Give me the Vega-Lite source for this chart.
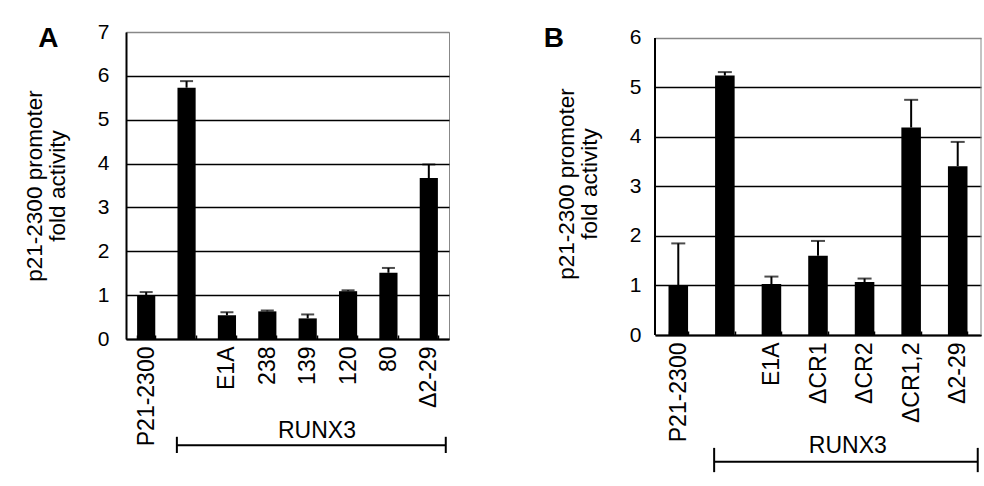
{
  "$schema": "https://vega.github.io/schema/vega-lite/v6.json",
  "background": "white",
  "padding": {"left": 22, "top": 20, "right": 0, "bottom": 0},
  "spacing": 93,
  "datasets": {
    "a": [
      {"construct": "P21-2300", "fold": 1.0, "upper": 1.07},
      {"construct": "RUNX3", "fold": 5.73, "upper": 5.88},
      {"construct": "E1A", "fold": 0.54, "upper": 0.61},
      {"construct": "238", "fold": 0.63, "upper": 0.65},
      {"construct": "139", "fold": 0.47, "upper": 0.56},
      {"construct": "120", "fold": 1.09, "upper": 1.11},
      {"construct": "80", "fold": 1.51, "upper": 1.62},
      {"construct": "Δ2-29", "fold": 3.67, "upper": 3.98}
    ],
    "b": [
      {"construct": "P21-2300", "fold": 1.0, "upper": 1.85},
      {"construct": "RUNX3", "fold": 5.24, "upper": 5.31},
      {"construct": "E1A", "fold": 1.03, "upper": 1.18},
      {"construct": "ΔCR1", "fold": 1.6, "upper": 1.9},
      {"construct": "ΔCR2", "fold": 1.07, "upper": 1.14},
      {"construct": "ΔCR1,2", "fold": 4.19, "upper": 4.75},
      {"construct": "Δ2-29", "fold": 3.41, "upper": 3.9}
    ],
    "noteA": [{"label": "RUNX3", "panel": "A"}],
    "noteB": [{"label": "RUNX3", "panel": "B"}]
  },
  "config": {
    "font": "Liberation Sans",
    "view": {"stroke": "#888", "strokeWidth": 1},
    "axis": {"labelFont": "Liberation Sans", "titleFont": "Liberation Sans", "labelColor": "#000", "titleColor": "#000"}
  },
  "hconcat": [
    {
      "width": 323,
      "height": 307,
      "resolve": {"scale": {"x": "independent"}},
      "layer": [
        {
          "data": {"name": "a"},
          "encoding": {
            "x": {"field": "construct", "type": "nominal",
              "sort": ["P21-2300", "RUNX3", "E1A", "238", "139", "120", "80", "Δ2-29"],
              "scale": {"paddingInner": 0.55, "paddingOuter": 0.275},
              "axis": {"title": null, "labelAngle": -90, "labelFontSize": 23, "labelPadding": 11, "tickBand": "extent", "tickSize": -4, "tickColor": "#000", "tickWidth": 1.5, "domainColor": "#000", "domainWidth": 2,
                "labelExpr": "datum.value == 'RUNX3' ? '' : datum.value"}
            },
            "y": {"type": "quantitative",
              "scale": {"domain": [0, 7], "nice": false},
              "axis": {"values": [0, 1, 2, 3, 4, 5, 6, 7], "ticks": false, "labelFontSize": 21, "labelPadding": 17, "domainColor": "#000", "domainWidth": 2,
                "gridColor": {"condition": {"test": "datum.value == 7", "value": "#888"}, "value": "#000"}, "gridWidth": 1.5, "gridOpacity": 1,
                "title": ["p21-2300 promoter", "fold activity"], "titleFontSize": 22.5, "titleFontWeight": "normal", "titlePadding": 28, "titleLineHeight": 23}
            }
          },
          "layer": [
            {"mark": {"type": "bar", "color": "#000"}, "encoding": {"y": {"field": "fold"}}},
            {"mark": {"type": "rule", "color": "#000", "strokeWidth": 2}, "encoding": {"y": {"field": "fold"}, "y2": {"field": "upper"}}},
            {"mark": {"type": "tick", "color": "#000", "thickness": 2, "size": 13, "orient": "horizontal"}, "encoding": {"y": {"field": "upper"}}}
          ]
        },
        {
          "data": {"name": "noteA"},
          "layer": [
            {"mark": {"type": "rule", "color": "#000", "strokeWidth": 2},
              "encoding": {"x": {"datum": 1.26, "type": "quantitative", "scale": {"domain": [0, 8], "nice": false, "zero": false}, "axis": null}, "x2": {"datum": 7.92}, "y": {"datum": -2.42}}},
            {"mark": {"type": "rule", "color": "#000", "strokeWidth": 2},
              "encoding": {"x": {"datum": 1.26, "type": "quantitative"}, "y": {"datum": -2.23}, "y2": {"datum": -2.6}}},
            {"mark": {"type": "rule", "color": "#000", "strokeWidth": 2},
              "encoding": {"x": {"datum": 7.92, "type": "quantitative"}, "y": {"datum": -2.23}, "y2": {"datum": -2.6}}},
            {"mark": {"type": "text", "fontSize": 23, "baseline": "alphabetic", "align": "center", "color": "#000"},
              "encoding": {"x": {"datum": 4.73, "type": "quantitative"}, "y": {"datum": -2.26}, "text": {"field": "label"}}},
            {"mark": {"type": "text", "fontSize": 28, "fontWeight": "bold", "baseline": "alphabetic", "align": "center", "color": "#000"},
              "encoding": {"x": {"datum": -1.92, "type": "quantitative"}, "y": {"datum": 6.66}, "text": {"field": "panel"}}}
          ]
        }
      ]
    },
    {
      "width": 326,
      "height": 303,
      "view": {"stroke": null},
      "resolve": {"scale": {"x": "independent"}},
      "layer": [
        {
          "data": {"name": "b"},
          "encoding": {
            "x": {"field": "construct", "type": "nominal",
              "sort": ["P21-2300", "RUNX3", "E1A", "ΔCR1", "ΔCR2", "ΔCR1,2", "Δ2-29"],
              "scale": {"paddingInner": 0.58, "paddingOuter": 0.29},
              "axis": {"title": null, "labelAngle": -90, "labelFontSize": 23, "labelPadding": 11, "tickBand": "extent", "tickSize": -4, "tickColor": "#000", "tickWidth": 1.5, "domainColor": "#000", "domainWidth": 2,
                "labelExpr": "datum.value == 'RUNX3' ? '' : datum.value"}
            },
            "y": {"type": "quantitative",
              "scale": {"domain": [0, 6.12], "nice": false},
              "axis": {"values": [0, 1, 2, 3, 4, 5, 6], "ticks": false, "domain": false, "labelFontSize": 21, "labelPadding": 14,
                "gridColor": {"condition": {"test": "datum.value == 6", "value": "#888"}, "value": "#000"}, "gridWidth": 1.5, "gridOpacity": 1,
                "title": ["p21-2300 promoter", "fold activity"], "titleFontSize": 22.5, "titleFontWeight": "normal", "titlePadding": 28, "titleLineHeight": 23}
            }
          },
          "layer": [
            {"mark": {"type": "bar", "color": "#000"}, "encoding": {"y": {"field": "fold"}}},
            {"mark": {"type": "rule", "color": "#000", "strokeWidth": 2}, "encoding": {"y": {"field": "fold"}, "y2": {"field": "upper"}}},
            {"mark": {"type": "tick", "color": "#000", "thickness": 2, "size": 14, "orient": "horizontal"}, "encoding": {"y": {"field": "upper"}}}
          ]
        },
        {
          "data": {"name": "noteB"},
          "layer": [
            {"mark": {"type": "rule", "color": "#000", "strokeWidth": 2},
              "encoding": {"x": {"datum": 0, "type": "quantitative", "scale": {"domain": [0, 7], "nice": false, "zero": false}, "axis": null}, "y": {"datum": 0}, "y2": {"datum": 6}}},
            {"mark": {"type": "rule", "color": "#888", "strokeWidth": 1},
              "encoding": {"x": {"datum": 7, "type": "quantitative"}, "y": {"datum": 0}, "y2": {"datum": 6}}},
            {"mark": {"type": "rule", "color": "#000", "strokeWidth": 2},
              "encoding": {"x": {"datum": 1.27, "type": "quantitative"}, "x2": {"datum": 6.93}, "y": {"datum": -2.56}}},
            {"mark": {"type": "rule", "color": "#000", "strokeWidth": 2},
              "encoding": {"x": {"datum": 1.27, "type": "quantitative"}, "y": {"datum": -2.28}, "y2": {"datum": -2.77}}},
            {"mark": {"type": "rule", "color": "#000", "strokeWidth": 2},
              "encoding": {"x": {"datum": 6.93, "type": "quantitative"}, "y": {"datum": -2.28}, "y2": {"datum": -2.77}}},
            {"mark": {"type": "text", "fontSize": 23, "baseline": "alphabetic", "align": "center", "color": "#000"},
              "encoding": {"x": {"datum": 4.14, "type": "quantitative"}, "y": {"datum": -2.38}, "text": {"field": "label"}}},
            {"mark": {"type": "text", "fontSize": 28, "fontWeight": "bold", "baseline": "alphabetic", "align": "center", "color": "#000"},
              "encoding": {"x": {"datum": -2.17, "type": "quantitative"}, "y": {"datum": 5.82}, "text": {"field": "panel"}}}
          ]
        }
      ]
    }
  ]
}
